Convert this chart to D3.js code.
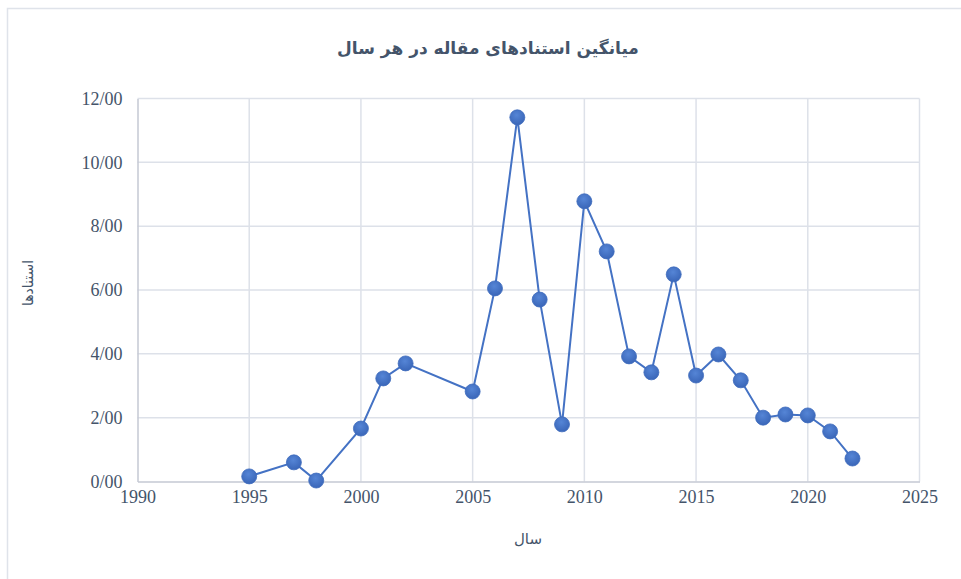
<!DOCTYPE html>
<html>
<head>
<meta charset="utf-8">
<script src="https://cdn.jsdelivr.net/npm/d3@7"></script>
<style>
  body { margin: 0; background: #fff; }
  svg { display: block; }
</style>
</head>
<body>
<svg id="chart" width="961" height="579"></svg>
<script>
// data
var years = [1995, 1997, 1998, 2000, 2001, 2002, 2005, 2006, 2007, 2008, 2009, 2010,
             2011, 2012, 2013, 2014, 2015, 2016, 2017, 2018, 2019, 2020, 2021, 2022];
var citations = [0.16, 0.60, 0.03, 1.66, 3.23, 3.70, 2.82, 6.05, 11.41, 5.70, 1.79, 8.78,
                 7.21, 3.92, 3.42, 6.49, 3.32, 3.98, 3.17, 2.00, 2.10, 2.07, 1.57, 0.72];
var xTicks = [1990, 1995, 2000, 2005, 2010, 2015, 2020, 2025];
var yTicks = [0, 2, 4, 6, 8, 10, 12];
var titleText = "میانگین استنادهای مقاله در هر سال";
var xTitle = "سال";
var yTitle = "استنادها";

var svg = d3.select("#chart");
var textColor = "#44546a";

// outer chart frame
svg.append("rect")
    .attr("x", 7.5).attr("y", 8.5)
    .attr("width", 970).attr("height", 600)
    .attr("fill", "none")
    .attr("stroke", "#dfe3ea")
    .attr("stroke-width", 1.5);

var x = d3.scaleLinear().domain([1990, 2025]).range([137.5, 919.5]);
var y = d3.scaleLinear().domain([0, 12]).range([481.5, 98.5]);

// grid
var grid = svg.append("g");
grid.selectAll("line.h")
    .data(yTicks.slice(1))
    .enter().append("line")
    .attr("x1", x(1990)).attr("x2", x(2025))
    .attr("y1", function(d) { return y(d); })
    .attr("y2", function(d) { return y(d); })
    .attr("stroke", "#dde1e9").attr("stroke-width", 1.5);
grid.selectAll("line.v")
    .data(xTicks.slice(1))
    .enter().append("line")
    .attr("y1", y(0)).attr("y2", y(12))
    .attr("x1", function(d) { return x(d); })
    .attr("x2", function(d) { return x(d); })
    .attr("stroke", "#dde1e9").attr("stroke-width", 1.5);

// axes
var xAxis = svg.append("g")
    .attr("transform", "translate(0," + y(0) + ")")
    .call(d3.axisBottom(x).tickValues(xTicks).tickSize(0).tickPadding(9).tickFormat(d3.format("d")));
var yAxis = svg.append("g")
    .attr("transform", "translate(" + x(1990) + ",0)")
    .call(d3.axisLeft(y).tickValues(yTicks).tickSize(0).tickPadding(15)
        .tickFormat(function(d) { return d + "/00"; }));

[xAxis, yAxis].forEach(function(a) {
    a.select(".domain").attr("stroke", "#c4c9d3").attr("stroke-width", 1.5);
    a.selectAll("text")
        .attr("fill", textColor)
        .style("font-family", "'Liberation Serif', 'Times New Roman', serif")
        .style("font-size", "18px");
});

// series line
var line = d3.line()
    .x(function(d, i) { return x(years[i]); })
    .y(function(d) { return y(d); });

svg.append("path")
    .datum(citations)
    .attr("d", line)
    .attr("fill", "none")
    .attr("stroke", "#4472c4")
    .attr("stroke-width", 2);

// markers
var defs = svg.append("defs");
var grad = defs.append("radialGradient").attr("id", "dot")
    .attr("cx", "45%").attr("cy", "35%").attr("r", "65%");
grad.append("stop").attr("offset", "0%").attr("stop-color", "#5585d6");
grad.append("stop").attr("offset", "100%").attr("stop-color", "#3a66b8");

svg.append("g")
    .selectAll("circle")
    .data(citations)
    .enter().append("circle")
    .attr("cx", function(d, i) { return x(years[i]); })
    .attr("cy", function(d) { return y(d); })
    .attr("r", 7.5)
    .attr("fill", "url(#dot)")
    .attr("stroke", "#3e6bbd")
    .attr("stroke-width", 0.8);

// titles
svg.append("text")
    .attr("x", 488).attr("y", 54)
    .attr("text-anchor", "middle")
    .attr("direction", "rtl")
    .attr("fill", textColor)
    .style("font-family", "'DejaVu Sans', 'Noto Sans', sans-serif")
    .style("font-weight", "bold")
    .style("font-size", "17px")
    .text(titleText);

svg.append("text")
    .attr("x", 528).attr("y", 544)
    .attr("text-anchor", "middle")
    .attr("direction", "rtl")
    .attr("fill", textColor)
    .style("font-family", "'DejaVu Sans', 'Noto Sans', sans-serif")
    .style("font-size", "15px")
    .text(xTitle);

svg.append("text")
    .attr("transform", "translate(33,283) rotate(-90)")
    .attr("text-anchor", "middle")
    .attr("direction", "rtl")
    .attr("fill", textColor)
    .style("font-family", "'DejaVu Sans', 'Noto Sans', sans-serif")
    .style("font-size", "14px")
    .text(yTitle);
</script>
</body>
</html>
